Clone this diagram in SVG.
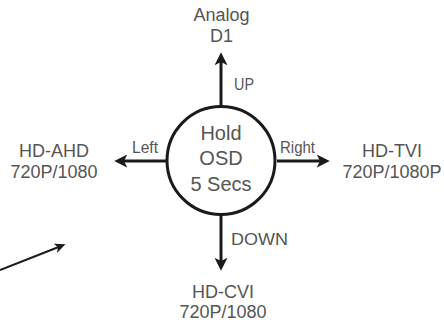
<svg xmlns="http://www.w3.org/2000/svg" width="444" height="322" viewBox="0 0 444 322">
  <style>
    .node { font-family: "Liberation Sans", Arial, sans-serif; font-size: 18px; fill: #555555; text-anchor: middle; }
    .center { font-family: "Liberation Sans", Arial, sans-serif; font-size: 20px; fill: #555555; text-anchor: middle; }
    .lbl { font-family: "Liberation Sans", Arial, sans-serif; font-size: 17px; fill: #555555; }
    .conn { stroke: #1a1a1a; stroke-width: 3; fill: none; marker-end: url(#arrow); }
    .thin { stroke: #1a1a1a; stroke-width: 2; fill: none; marker-end: url(#arrowSmall); }
  </style>
  <defs>
    <marker id="arrow" markerUnits="userSpaceOnUse" markerWidth="13" markerHeight="13" refX="3" refY="6" orient="auto" viewBox="0 0 12 12">
      <path d="M0,0 L12,6 L0,12 L3,6 Z" fill="#1a1a1a"/>
    </marker>
    <marker id="arrowSmall" markerUnits="userSpaceOnUse" markerWidth="11" markerHeight="10" refX="3" refY="5" orient="auto" viewBox="0 0 11 10">
      <path d="M0,0 L11,5 L0,10 L3,5 Z" fill="#1a1a1a"/>
    </marker>
  </defs>

  <g id="connectors">
    <line class="conn" x1="221" y1="107" x2="221" y2="62"/>
    <line class="conn" x1="166" y1="161" x2="124" y2="161"/>
    <line class="conn" x1="277" y1="161" x2="320" y2="161"/>
    <line class="conn" x1="221" y1="214" x2="221" y2="261"/>
    <line class="thin" x1="0" y1="270" x2="58" y2="247.2"/>
    <text class="lbl" x="234" y="90" textLength="20" lengthAdjust="spacingAndGlyphs">UP</text>
    <text class="lbl" x="132" y="153" textLength="26" lengthAdjust="spacingAndGlyphs">Left</text>
    <text class="lbl" x="280" y="153" textLength="35" lengthAdjust="spacingAndGlyphs">Right</text>
    <text class="lbl" x="231" y="245" textLength="57" lengthAdjust="spacingAndGlyphs">DOWN</text>
  </g>

  <g id="hold-osd">
    <circle cx="221" cy="160.5" r="54" fill="#ffffff" stroke="#1a1a1a" stroke-width="3"/>
    <text class="center" x="221" y="139.5">Hold</text>
    <text class="center" x="221" y="165">OSD</text>
    <text class="center" x="221" y="190.5">5 Secs</text>
  </g>

  <g id="analog">
    <text class="node" x="221.5" y="20.5">Analog</text>
    <text class="node" x="221.5" y="41.5">D1</text>
  </g>

  <g id="hd-ahd">
    <text class="node" x="54" y="156.5">HD-AHD</text>
    <text class="node" x="54" y="178">720P/1080</text>
  </g>

  <g id="hd-tvi">
    <text class="node" x="392" y="156.5">HD-TVI</text>
    <text class="node" x="392" y="178">720P/1080P</text>
  </g>

  <g id="hd-cvi">
    <text class="node" x="223" y="298">HD-CVI</text>
    <text class="node" x="223" y="318">720P/1080</text>
  </g>
</svg>
